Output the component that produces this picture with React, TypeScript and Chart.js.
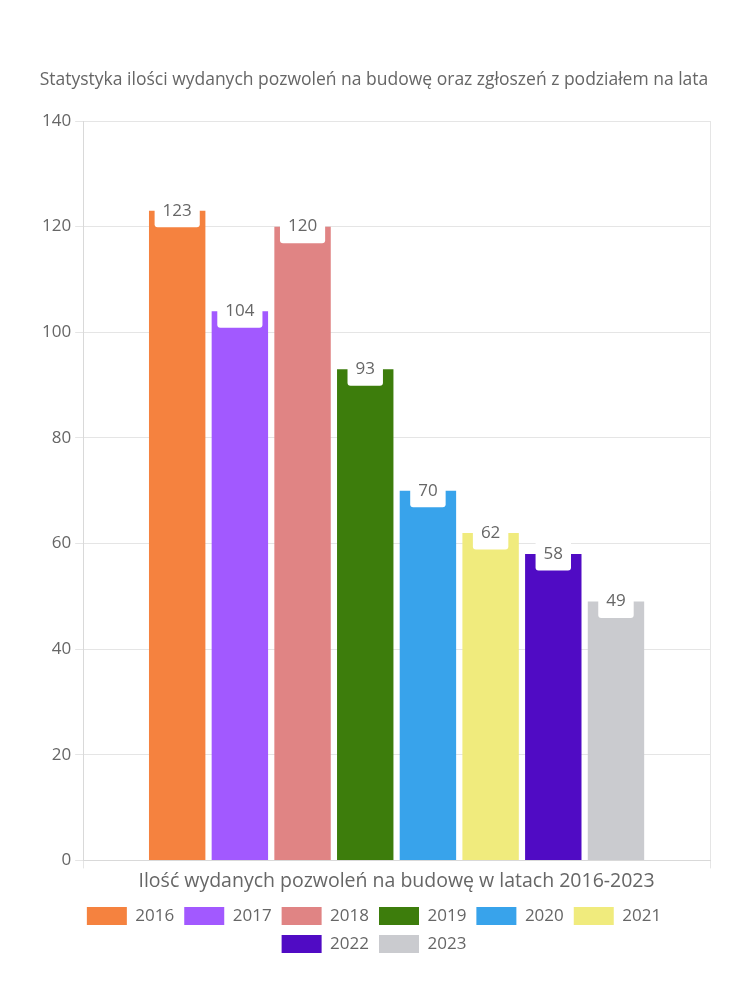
import React, { useEffect, useRef } from "react";
import { Chart, registerables } from "chart.js";

Chart.register(...registerables);

const years = ["2016", "2017", "2018", "2019", "2020", "2021", "2022", "2023"];
const values = [123, 104, 120, 93, 70, 62, 58, 49];
const colors = ["#F5823F", "#A259FF", "#E08484", "#3D7D0C", "#38A3EB", "#F0EB7D", "#500BC4", "#CACBCF"];
const categories = [""];
const titleText = "Statystyka ilości wydanych pozwoleń na budowę oraz zgłoszeń z podziałem na lata";
const xTitle = "Ilość wydanych pozwoleń na budowę w latach 2016-2023";

const FONT = "'Open Sans', sans-serif";

const labelPlugin = {
  id: "barLabels",
  afterDatasetsDraw(chart: any) {
    const ctx = chart.ctx;
    ctx.save();
    ctx.font = `17px ${FONT}`;
    chart.data.datasets.forEach((ds: any, i: number) => {
      const meta = chart.getDatasetMeta(i);
      meta.data.forEach((bar: any, j: number) => {
        const txt = String(ds.data[j]);
        const w = ctx.measureText(txt).width + 16;
        const h = 33;
        const x = bar.x;
        const y = bar.y;
        ctx.fillStyle = "#ffffff";
        ctx.beginPath();
        (ctx as any).roundRect(x - w / 2, y - h / 2, w, h, 3);
        ctx.fill();
        ctx.fillStyle = "#666666";
        ctx.textAlign = "center";
        ctx.textBaseline = "middle";
        ctx.fillText(txt, x, y);
      });
    });
    ctx.restore();
  },
};

export default function App() {
  const ref = useRef<HTMLCanvasElement>(null);
  useEffect(() => {
    if (!ref.current) return;
    const chart = new Chart(ref.current, {
      type: "bar",
      data: {
        labels: categories,
        datasets: years.map((y, i) => ({
          label: y,
          data: [values[i]],
          backgroundColor: colors[i],
          borderColor: colors[i],
          borderWidth: 0,
        })),
      },
      options: {
        animation: false,
        responsive: false,
        maintainAspectRatio: false,
        layout: { padding: { left: 38, right: 40, top: 50, bottom: 37 } },
        plugins: {
          title: {
            display: true,
            text: titleText,
            color: "#666",
            font: { family: FONT, size: 17.5, weight: "normal" },
            padding: { top: 20, bottom: 30 },
          },
          legend: {
            position: "bottom",
            labels: {
              color: "#666",
              boxWidth: 40,
              boxHeight: 18,
              font: { family: FONT, size: 17 },
            },
          },
          tooltip: { enabled: false },
        },
        scales: {
          x: {
            grid: { color: "#e5e5e5", tickLength: 8 },
            border: { color: "#d9d9d9" },
            ticks: { display: true, padding: 0, font: { family: FONT, size: 1 } },
            title: {
              display: true,
              text: xTitle,
              color: "#666",
              font: { family: FONT, size: 19.5 },
              padding: { top: 0, bottom: 4 },
            },
          },
          y: {
            min: 0,
            max: 140,
            ticks: { stepSize: 20, color: "#666", font: { family: FONT, size: 17 }, padding: 4 },
            grid: { color: "#e5e5e5", tickLength: 8 },
            border: { color: "#d9d9d9" },
          },
        },
      },
      plugins: [labelPlugin],
    });
    return () => chart.destroy();
  }, []);
  return (
    <div style={{ position: "absolute", left: 0, top: 0, width: 750, height: 1000 }}>
      <canvas ref={ref} width={750} height={1000} style={{ width: 750, height: 1000 }} />
    </div>
  );
}
